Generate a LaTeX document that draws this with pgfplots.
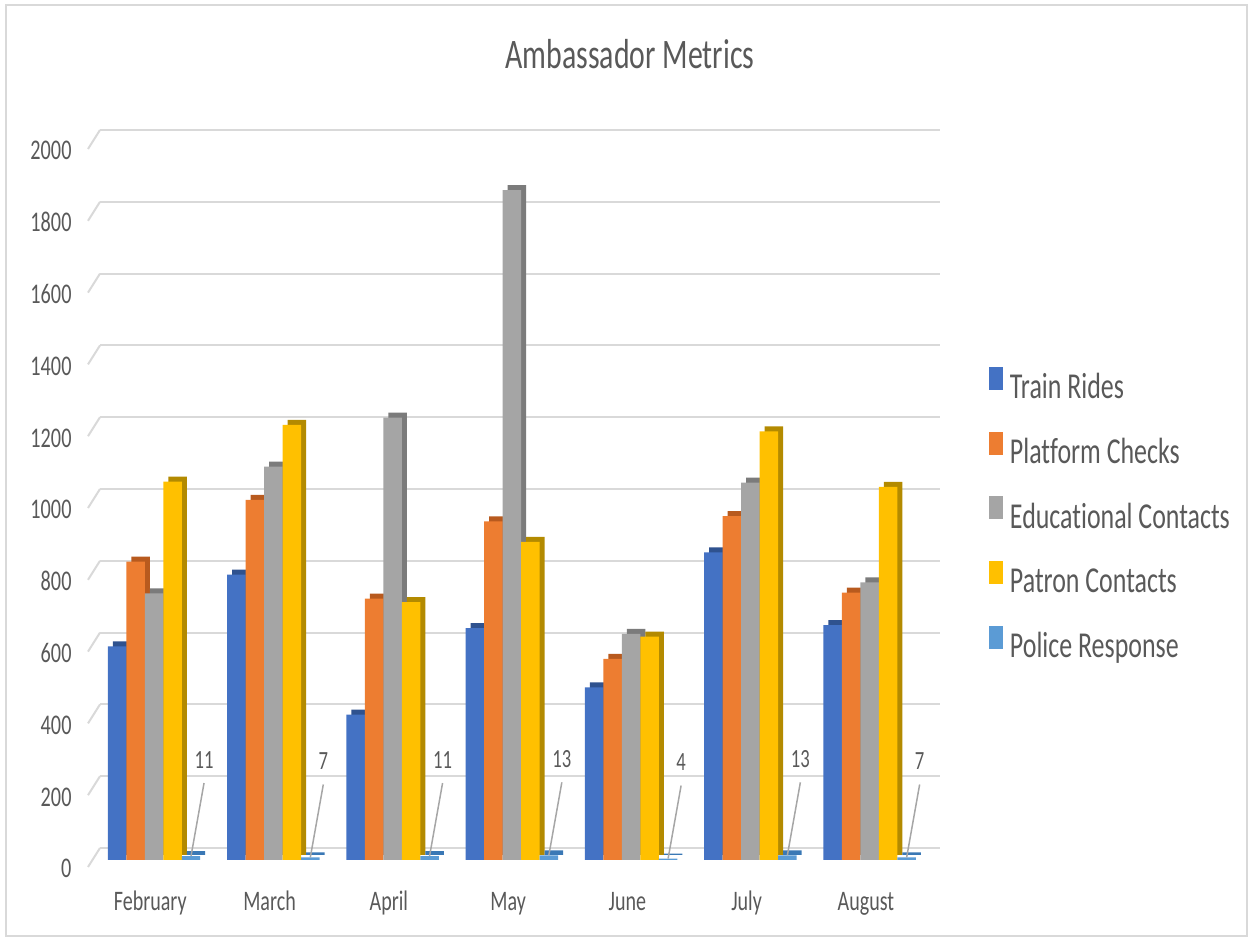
\documentclass[border=0pt]{standalone}
\usepackage{pgfplots}
\usepackage{pgfplotstable}
\pgfplotsset{compat=1.18}
\usepackage{fontspec}
\setmainfont{Carlito}[FakeStretch=0.71, Ligatures=NoCommon]

\definecolor{trc}{HTML}{4472C4}
\definecolor{trd}{HTML}{2F528F}
\definecolor{pcc}{HTML}{ED7D31}
\definecolor{pcd}{HTML}{B85A1E}
\definecolor{ecc}{HTML}{A5A5A5}
\definecolor{ecd}{HTML}{7B7B7B}
\definecolor{pac}{HTML}{FFC000}
\definecolor{pad}{HTML}{B38A00}
\definecolor{prc}{HTML}{5B9BD5}
\definecolor{prd}{HTML}{3A78B5}
\definecolor{txt}{HTML}{595959}
\definecolor{gridc}{HTML}{D9D9D9}
\definecolor{leadc}{HTML}{A6A6A6}

\pgfdeclareplotmark{leader}{%
  \pgfpathmoveto{\pgfpointorigin}%
  \pgfpathlineto{\pgfpoint{5.2pt}{29.2pt}}%
  \pgfusepathqstroke}

\pgfplotstableread{
x tr pc ec pac pr
0 595 831 743 1054 11
1 795 1003 1096 1212 7
2 405 728 1232 718 11
3 646 943 1866 886 13
4 481 560 630 622 4
5 857 958 1051 1194 13
6 654 745 773 1039 7
}\data

\begin{document}
\begin{tikzpicture}
\begin{axis}[
  scale only axis, width=336pt, height=287.2pt,
  ymin=0, ymax=2000, xmin=-0.453, xmax=6.59,
  ybar, bar width=0.155,
  legend image code/.code={\fill[#1] (0pt,0pt) rectangle (5.6pt,9.2pt);},
  ytick={0,200,...,2000},
  xtick={0,...,6}, xticklabels={February,March,April,May,June,July,August},
  ymajorgrids,
  major grid style={draw=gridc, line width=0.8pt, yshift=4.8pt},
  axis line style={draw=none}, major tick length=0pt, tick style={draw=none},
  yticklabel style={font=\fontsize{11.4}{13}\selectfont, text=txt, anchor=base east, inner sep=0pt, xshift=-11.2pt, yshift=-7.2pt},
  xticklabel style={font=\fontsize{11.3}{13}\selectfont, text=txt, anchor=base, inner sep=0pt, yshift=-20pt, xshift=-1.5pt},
  /pgf/number format/assume math mode=true, /pgf/number format/1000 sep={},
  title={Ambassador Metrics},
  title style={at={(0.631,1.0808)}, anchor=base, font=\fontsize{16.8}{19}\selectfont, text=txt, inner sep=0pt},
  legend style={at={(1.0583,0.6867)}, anchor=north west, draw=none, fill=none, inner sep=0pt, outer sep=0pt, row sep=10.2pt, column sep=2.8pt, font=\fontsize{14.6}{17}\selectfont, text=txt, nodes={inner sep=0pt, text height=10pt, text depth=3pt}},
  legend cell align=left,
  clip=false,
]
% page frame
\path (rel axis cs:-0.119048,-0.112813) rectangle (rel axis cs:1.369048,1.197772);
\draw[gridc, line width=0.6pt] (rel axis cs:-0.111905,-0.105850) rectangle (rel axis cs:1.365476,1.190808);
% side-wall ends of the gridlines
\pgfplotsinvokeforeach{0,200,400,600,800,1000,1200,1400,1600,1800,2000}{
  \draw[gridc, line width=0.8pt] ([xshift=-4.8pt,yshift=-2.8pt]axis cs:-0.453,#1) -- ([yshift=4.8pt]axis cs:-0.453,#1);
}
% depth faces
\addplot[forget plot, fill=trd, draw=none, bar shift=-0.31, xshift=2pt, yshift=2pt] table[x=x,y=tr]{\data};
\addplot[forget plot, fill=pcd, draw=none, bar shift=-0.155, xshift=2pt, yshift=2pt] table[x=x,y=pc]{\data};
\addplot[forget plot, fill=ecd, draw=none, bar shift=0, xshift=2pt, yshift=2pt] table[x=x,y=ec]{\data};
\addplot[forget plot, fill=pad, draw=none, bar shift=0.155, xshift=2pt, yshift=2pt] table[x=x,y=pac]{\data};
\addplot[forget plot, fill=prd, draw=none, bar shift=0.31, xshift=2pt, yshift=2pt] table[x=x,y=pr]{\data};
% front faces
\addplot[fill=trc, draw=none, bar shift=-0.31] table[x=x,y=tr]{\data};
\addlegendentry{Train Rides}
\addplot[fill=pcc, draw=none, bar shift=-0.155] table[x=x,y=pc]{\data};
\addlegendentry{Platform Checks}
\addplot[fill=ecc, draw=none, bar shift=0] table[x=x,y=ec]{\data};
\addlegendentry{Educational Contacts}
\addplot[fill=pac, draw=none, bar shift=0.155] table[x=x,y=pac]{\data};
\addlegendentry{Patron Contacts}
\addplot[fill=prc, draw=none, bar shift=0.31] table[x=x,y=pr]{\data};
\addlegendentry{Police Response}
% data labels with leader lines for Police Response
\addplot[forget plot, sharp plot, only marks, xshift=14.8pt,
  mark=leader, mark options={draw=leadc, line width=0.6pt},
  nodes near coords,
  every node near coord/.style={font=\fontsize{10.5}{12}\selectfont, text=txt, anchor=base, inner sep=0pt, xshift=5.2pt, yshift=35.2pt}
] table[x=x,y=pr]{\data};
\end{axis}
\end{tikzpicture}
\end{document}
